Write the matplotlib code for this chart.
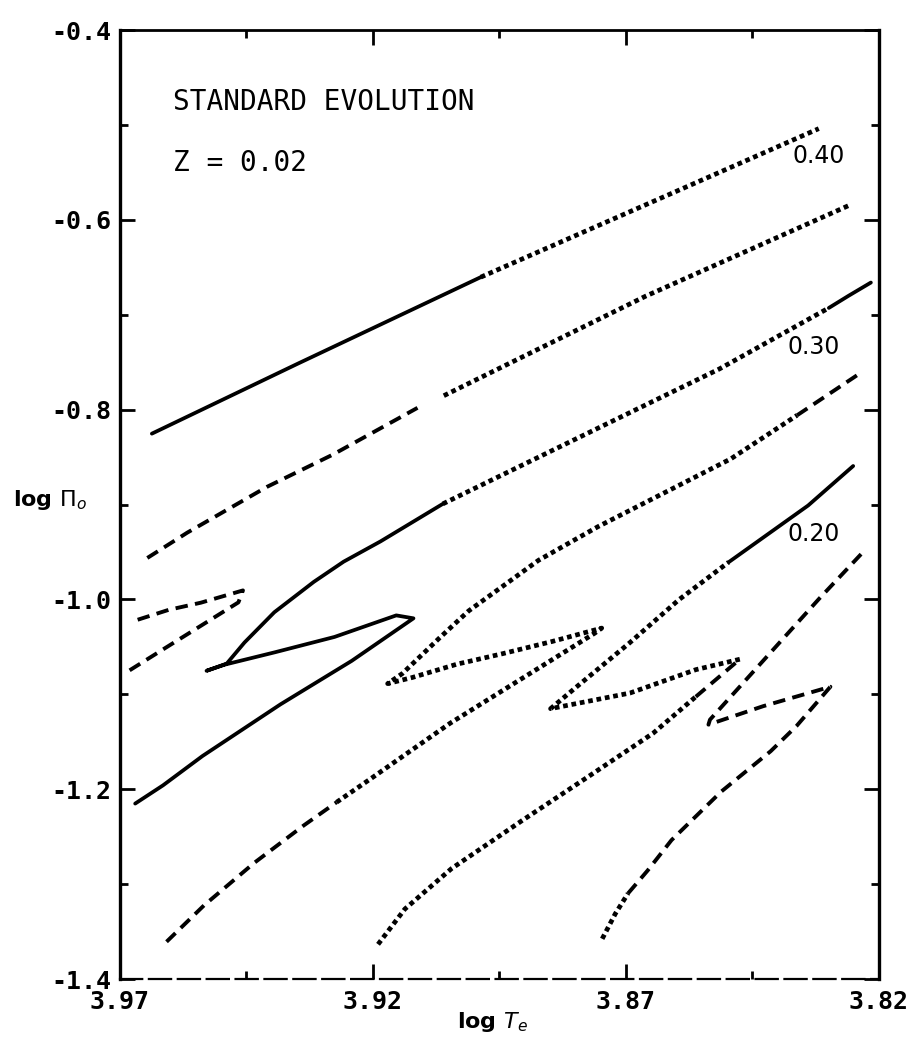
import matplotlib
matplotlib.use("Agg")
import matplotlib.pyplot as plt

# ---------------- data (log Te, log Pi0) ----------------
x_ticks = [3.97, 3.92, 3.87, 3.82]
x_tick_labels = ["3.97", "3.92", "3.87", "3.82"]
x_minor = [3.945, 3.895, 3.845]
y_ticks = [-0.4, -0.6, -0.8, -1.0, -1.2, -1.4]
y_tick_labels = ["-0.4", "-0.6", "-0.8", "-1.0", "-1.2", "-1.4"]
y_minor = [-0.5, -0.7, -0.9, -1.1, -1.3]

curve_labels = ["0.40", "0.30", "0.20"]

# track 1 (top)
t1_solid_x = [3.9637, 3.9348, 3.8987]
t1_solid_y = [-0.8253, -0.7514, -0.6604]
t1_dot_x = [3.8987, 3.8602, 3.8319]
t1_dot_y = [-0.6604, -0.5703, -0.5039]

# track 2
t2_dash_x = [3.9646, 3.9567, 3.9410, 3.9279, 3.9112]
t2_dash_y = [-0.9563, -0.9296, -0.8815, -0.8473, -0.7981]
t2_dot_x = [3.9060, 3.8661, 3.8255]
t2_dot_y = [-0.7853, -0.6804, -0.5838]

# track 3 (with solid loop)
t3_solid_x = [3.9670, 3.9615, 3.9537, 3.9383, 3.9242, 3.9120, 3.9154, 3.9276,
              3.9394, 3.9493, 3.9529, 3.9489, 3.9454, 3.9395, 3.9317, 3.9258,
              3.9185, 3.9062]
t3_solid_y = [-1.2151, -1.1959, -1.1650, -1.1106, -1.0647, -1.0199, -1.0168, -1.0395,
              -1.0557, -1.0687, -1.0752, -1.0676, -1.0454, -1.0135, -0.9815, -0.9602,
              -0.9388, -0.8993]
t3_dot_x = [3.9062, 3.8515, 3.8299]
t3_dot_y = [-0.8993, -0.7570, -0.6928]
t3_end_x = [3.8299, 3.8260, 3.8216]
t3_end_y = [-0.6928, -0.6800, -0.6661]

# track 4 (small dashed hook)
t4_dash_x = [3.9681, 3.9604, 3.9540, 3.9466, 3.9457, 3.9540, 3.9604, 3.9668]
t4_dash_y = [-1.0747, -1.0490, -1.0277, -1.0031, -0.9905, -1.0034, -1.0110, -1.0219]

# track 5
t5_dash_x = [3.9608, 3.9534, 3.9435, 3.9337, 3.9272]
t5_dash_y = [-1.3607, -1.3224, -1.2777, -1.2382, -1.2137]
t5_dot_x = [3.9272, 3.9205, 3.9048, 3.8762, 3.8748, 3.8846, 3.8945, 3.9034, 3.9122,
            3.9171, 3.9142, 3.9069, 3.9011, 3.8873, 3.8756, 3.8493, 3.8362]
t5_dot_y = [-1.2137, -1.1891, -1.1306, -1.0356, -1.0302, -1.0443, -1.0573, -1.0682, -1.0822,
            -1.0887, -1.0781, -1.0408, -1.0121, -0.9588, -0.9235, -0.8519, -0.8060]
t5_end_x = [3.8362, 3.8242]
t5_end_y = [-0.8060, -0.7633]

# track 6
t6_dot_x = [3.9190, 3.9137, 3.9045, 3.8907, 3.8777, 3.8646, 3.8562]
t6_dot_y = [-1.3634, -1.3262, -1.2837, -1.2336, -1.1876, -1.1408, -1.1025]
t6_dash_x = [3.8562, 3.8475]
t6_dash_y = [-1.1025, -1.0630]
t6_dot2_x = [3.8475, 3.8562, 3.8692, 3.8849, 3.8799, 3.8693, 3.8595, 3.8497]
t6_dot2_y = [-1.0630, -1.0740, -1.0986, -1.1151, -1.0927, -1.0458, -1.0001, -0.9607]
t6_solid_x = [3.8497, 3.8340, 3.8251]
t6_solid_y = [-0.9607, -0.9010, -0.8594]

# track 7
t7_dot_x = [3.8747, 3.8721, 3.8696]
t7_dot_y = [-1.3576, -1.3311, -1.3098]
t7_dash_x = [3.8696, 3.8657, 3.8610, 3.8512, 3.8414, 3.8363, 3.8296, 3.8429, 3.8537,
             3.8534, 3.8318, 3.8228]
t7_dash_y = [-1.3098, -1.2855, -1.2536, -1.2026, -1.1599, -1.1334, -1.0920, -1.1125, -1.1319,
             -1.1267, -0.9991, -0.9481]

# ---------------- figure ----------------
fig = plt.figure(figsize=(9.07, 10.39), dpi=100)
ax = fig.add_axes([0.1323, 0.0577, 0.8368, 0.9134])

SOLID = dict(color="black", lw=2.7, linestyle="-", solid_capstyle="round")
DASH = dict(color="black", lw=2.8, linestyle=(0, (3.2, 1.9)), dash_capstyle="butt")
DOT = dict(color="black", lw=3.4, linestyle=(0, (1.0, 0.8)), dash_capstyle="butt")

ax.plot(t1_solid_x, t1_solid_y, **SOLID)
ax.plot(t1_dot_x, t1_dot_y, **DOT)
ax.plot(t2_dash_x, t2_dash_y, **DASH)
ax.plot(t2_dot_x, t2_dot_y, **DOT)
ax.plot(t3_solid_x, t3_solid_y, **SOLID)
ax.plot(t3_dot_x, t3_dot_y, **DOT)
ax.plot(t3_end_x, t3_end_y, **SOLID)
ax.plot(t4_dash_x, t4_dash_y, **DASH)
ax.plot(t5_dash_x, t5_dash_y, **DASH)
ax.plot(t5_dot_x, t5_dot_y, **DOT)
ax.plot(t5_end_x, t5_end_y, **DASH)
ax.plot(t6_dot_x, t6_dot_y, **DOT)
ax.plot(t6_dash_x, t6_dash_y, **DASH)
ax.plot(t6_dot2_x, t6_dot2_y, **DOT)
ax.plot(t6_solid_x, t6_solid_y, **SOLID)
ax.plot(t7_dot_x, t7_dot_y, **DOT)
ax.plot(t7_dash_x, t7_dash_y, **DASH)

ax.set_xlim(3.97, 3.82)
ax.set_ylim(-1.4, -0.4)

ax.set_xticks(x_ticks)
ax.set_xticklabels(x_tick_labels)
ax.set_xticks(x_minor, minor=True)
ax.set_yticks(y_ticks)
ax.set_yticklabels(y_tick_labels)
ax.set_yticks(y_minor, minor=True)

for lab in ax.get_xticklabels() + ax.get_yticklabels():
    lab.set_fontfamily("DejaVu Sans Mono")
    lab.set_fontweight("bold")
    lab.set_fontsize(18)

ax.tick_params(which="both", direction="in", top=True, right=True, width=2.0)
ax.tick_params(which="major", length=11, pad=6)
ax.tick_params(which="minor", length=6)
ax.tick_params(axis="x", which="major", pad=8)

for side in ["left", "right"]:
    ax.spines[side].set_linewidth(2.4)
ax.spines["top"].set_linewidth(2.0)
ax.spines["bottom"].set_linewidth(1.6)
ax.spines["bottom"].set_linestyle((0, (10, 3)))

# annotations
ax.text(0.07, 0.924, "STANDARD EVOLUTION", transform=ax.transAxes,
        fontsize=20, family="DejaVu Sans Mono", ha="left", va="center")
ax.text(0.07, 0.86, "Z = 0.02", transform=ax.transAxes,
        fontsize=20, family="DejaVu Sans Mono", ha="left", va="center")

label_pos = [(3.832, -0.533), (3.833, -0.734), (3.833, -0.9315)]
for txt, (lx, ly) in zip(curve_labels, label_pos):
    ax.text(lx, ly, txt, fontsize=17, family="DejaVu Sans", ha="center", va="center")

fig.text(13 / 907, 1 - 500 / 1039, r"log $\Pi_{o}$", fontsize=16, fontweight="bold",
         ha="left", va="center")
fig.text(493 / 907, 1 - 1022 / 1039, r"log $T_{e}$", fontsize=16, fontweight="bold",
         ha="center", va="center")

fig.savefig("out.png", dpi=100)
